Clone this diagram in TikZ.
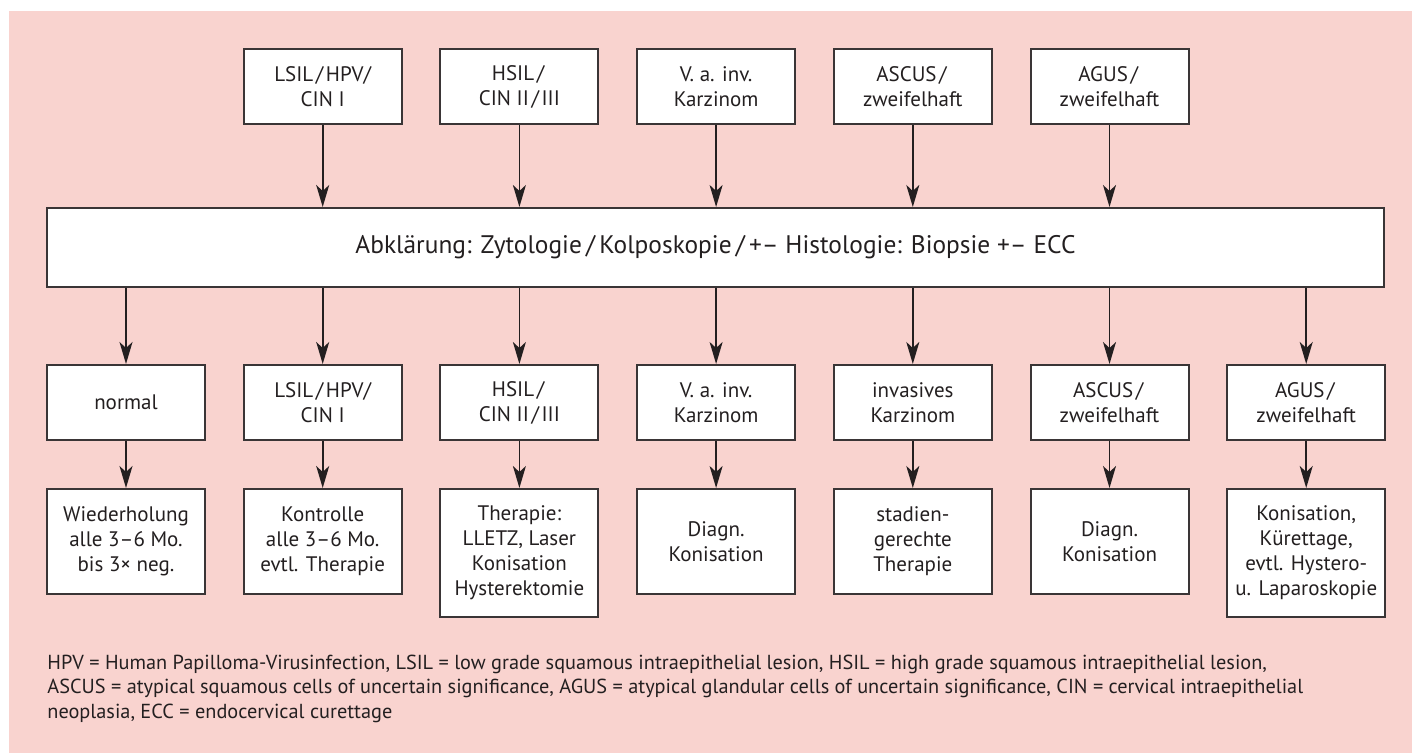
\documentclass[tikz,border=0pt]{standalone}
\usepackage{fontspec}
\setmainfont{PT Sans}
\usetikzlibrary{arrows.meta}
\definecolor{bgpink}{HTML}{F9D3CF}
\definecolor{ink}{HTML}{231F20}
\definecolor{frame}{HTML}{3A3536}
\newcommand{\slsep}{\kern1.3pt/\kern1.3pt}
\begin{document}
\begin{tikzpicture}[x=0.5pt,y=-0.5pt,
  box/.style={draw=frame, line width=1pt, fill=white, text=ink, minimum width=79pt,
    minimum height=37.5pt, align=center, inner sep=0pt, font=\fontsize{10.5}{12.5}\selectfont},
  resbox/.style={box, minimum height=52.5pt, anchor=north},
  tallbox/.style={box, minimum height=64pt, anchor=north},
  barbox/.style={box, minimum width=668.5pt, minimum height=39.5pt, font=\fontsize{12.7}{14}\selectfont},
  arr/.style={draw=ink, line width=0.8pt, -{Stealth[length=11pt,width=6.5pt,inset=3pt]}},
  note/.style={anchor=base west, align=left, inner sep=0pt, text=ink, font=\fontsize{10.15}{12.25}\selectfont}]
\useasboundingbox (0,0) rectangle (1412,753);
\fill[bgpink] (9,11) rectangle (1412,753);
% top row
\node[box] (t1) at (322.7,86.5) {LSIL\slsep HPV/\\CIN I};
\node[box] (t2) at (519.4,86.5) {HSIL\slsep\\CIN II\slsep III};
\node[box] (t3) at (716.1,86.5) {V. a. inv.\\Karzinom};
\node[box] (t4) at (912.8,86.5) {ASCUS\slsep\\zweifelhaft};
\node[box] (t5) at (1109.5,86.5) {AGUS\slsep\\zweifelhaft};
% bar
\node[barbox] (bar) at (715.5,247.5) {Abklärung: Zytologie\,/\,Kolposkopie\,/\,+– Histologie: Biopsie +– ECC};
% middle row
\node[box] (m1) at (126,402.5) {normal};
\node[box] (m2) at (322.7,402.5) {LSIL\slsep HPV/\\CIN I};
\node[box] (m3) at (519.4,402.5) {HSIL\slsep\\CIN II\slsep III};
\node[box] (m4) at (716.1,402.5) {V. a. inv.\\Karzinom};
\node[box] (m5) at (912.8,402.5) {invasives\\Karzinom};
\node[box] (m6) at (1109.5,402.5) {ASCUS\slsep\\zweifelhaft};
\node[box] (m7) at (1306.2,402.5) {AGUS\slsep\\zweifelhaft};
% result row
\node[resbox] (r1) at (126,488) {Wiederholung\\alle 3–6 Mo.\\bis 3× neg.};
\node[resbox] (r2) at (322.7,488) {Kontrolle\\alle 3–6 Mo.\\evtl. Therapie};
\node[tallbox] (r3) at (519.4,488) {Therapie:\\LLETZ, Laser\\Konisation\\Hysterektomie};
\node[resbox] (r4) at (716.1,488) {Diagn.\\Konisation};
\node[resbox] (r5) at (912.8,488) {stadien-\\gerechte\\Therapie};
\node[resbox] (r6) at (1109.5,488) {Diagn.\\Konisation};
\node[tallbox] (r7) at (1306.2,488) {Konisation,\\Kürettage,\\evtl. Hystero-\\u. Laparoskopie};
% arrows
\foreach \t in {t1,t2,t3,t4,t5}
  \draw[arr] (\t.south) -- (\t.south |- bar.north);
\foreach \m in {m1,m2,m3,m4,m5,m6,m7}
  \draw[arr] (bar.south -| \m.north) -- (\m.north);
\foreach \m/\r in {m1/r1,m2/r2,m3/r3,m4/r4,m5/r5,m6/r6,m7/r7}
  \draw[arr] (\m.south) -- (\r.north);
% footnote
\node[note] (fn) at (47,718) {HPV = Human Papilloma-Virusinfection, LSIL = low grade squamous intraepithelial lesion, HSIL = high grade squamous intraepithelial lesion,\\
ASCUS = atypical squamous cells of uncertain significance, AGUS = atypical glandular cells of uncertain significance, CIN = cervical intraepithelial\\
neoplasia, ECC = endocervical curettage};
\end{tikzpicture}
\end{document}
